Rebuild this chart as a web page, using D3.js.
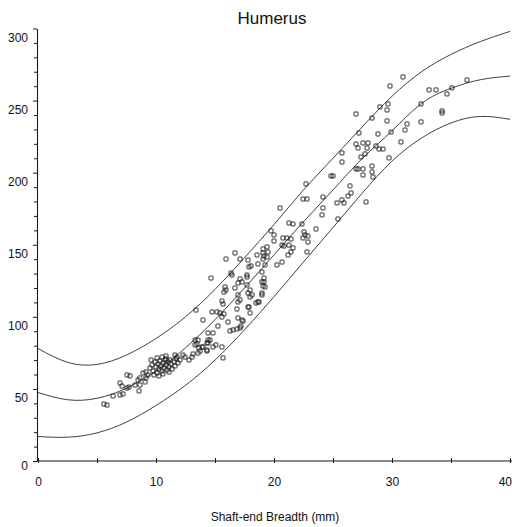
<!DOCTYPE html>
<html>
<head>
<meta charset="utf-8">
<script src="https://cdn.jsdelivr.net/npm/d3@7"></script>
<style>
  body { margin: 0; background: #fff; }
  svg { display: block; }
  text { font-family: "Liberation Sans", Arial, sans-serif; fill: #111; }
</style>
</head>
<body>
<svg id="chart" width="512" height="527"></svg>
<script>
// Labels
const chartTitle = "Humerus";
const xAxisTitle = "Shaft-end Breadth (mm)";
const xTickLabels = [0, 10, 20, 30, 40];
const yTickLabels = [0, 50, 100, 150, 200, 250, 300];

// Fitted curve and its upper / lower bands (length in mm against breadth in mm)
const curveBreadth = [0, 2.5, 5, 7.5, 10, 12.5, 15, 17.5, 20, 22.5, 25, 27.5, 30, 32.5, 35, 37.5, 40];
const upperBand = [78, 68.5, 67, 73.5, 85, 100, 119, 141, 164, 188, 210, 232, 253, 270, 282, 291, 298];
const fitLine   = [47.5, 42.5, 43.5, 50.5, 62.5, 78.5, 98, 120, 143, 166, 188, 210, 229, 248, 258.5, 264.5, 267];
const lowerBand = [17, 16.5, 19.5, 27, 38.5, 52.5, 70, 91, 114, 138, 162, 186, 208, 224, 234.5, 239, 237];

// Observed specimens: shaft-end breadth (mm) and humerus length (mm)
const breadth = [
  5.59, 5.85, 6.36, 6.95, 7.20, 6.95, 7.12, 7.54, 7.71, 7.54, 7.80, 8.22, 8.64, 8.56, 8.48, 8.64, 9.15, 9.32, 9.15,
  9.49, 9.66, 9.75, 9.92, 10.0, 10.09, 10.17, 10.25, 10.34, 10.42, 10.51, 10.59, 10.68, 10.76, 10.85, 10.93, 11.02,
  11.10, 11.19, 11.27, 11.36, 11.53, 11.61, 11.70, 11.86, 9.83, 10.25, 10.59, 11.10, 9.58, 10.09, 10.51, 10.85,
  11.61, 11.78, 12.03, 12.29, 12.46, 13.05, 13.14, 13.56, 13.31, 13.56, 13.90, 14.32, 14.32, 13.98, 14.58, 10.85,
  8.90, 9.07, 12.80, 13.39, 14.66, 14.41, 14.83, 13.31, 13.47, 14.41, 14.41, 13.98, 13.64, 14.83, 13.73, 14.32,
  14.75, 15.17, 15.42, 15.25, 15.59, 15.76, 16.10, 16.27, 16.53, 16.86, 17.12, 15.59, 15.68, 15.85, 15.93, 15.76,
  16.69, 16.95, 17.12, 16.95, 16.86, 17.80, 17.97, 17.29, 17.37, 16.95, 17.20, 16.36, 16.44, 17.71, 17.71, 17.12,
  17.29, 16.95, 18.98, 19.15, 17.71, 17.97, 17.80, 18.14, 18.98, 18.64, 18.47, 16.69, 15.93, 17.12, 17.80, 18.56,
  19.07, 19.41, 18.64, 19.24, 17.88, 18.98, 19.15, 19.07, 19.24, 18.98, 18.05, 17.97, 17.88, 18.73, 15.08, 15.59,
  15.68, 19.41, 19.07, 19.49, 19.15, 19.07, 19.75, 20.0, 20.0, 20.51, 20.76, 21.10, 21.44, 20.68, 20.85, 21.27,
  21.61, 21.44, 21.19, 20.68, 20.25, 21.27, 21.61, 22.37, 22.46, 22.80, 22.71, 22.54, 22.63, 22.88, 22.46, 22.88,
  22.80, 23.56, 24.15, 24.15, 24.07, 24.83, 25.0, 25.76, 25.76, 25.93, 25.34, 25.42, 26.44, 26.53, 26.27, 25.76,
  26.95, 27.20, 26.95, 27.54, 27.97, 27.12, 27.88, 27.37, 27.71, 26.95, 27.12, 27.54, 27.54, 28.31, 28.31, 28.39,
  27.80, 28.31, 28.81, 28.64, 28.90, 29.24, 28.98, 29.66, 29.58, 29.83, 30.93, 29.58, 29.92, 29.75, 30.76, 31.27,
  31.10, 32.46, 32.46, 33.14, 33.73, 35.08, 34.66, 34.24, 34.24, 36.36
];
const humerusLength = [
  39.5, 38.8, 45.1, 45.8, 46.5, 54.1, 52.0, 50.6, 51.3, 59.7, 59.0, 52.7, 52.7, 48.6, 56.2, 57.6, 57.6, 59.7, 61.7,
  64.5, 66.6, 62.4, 68.7, 65.2, 61.0, 67.3, 63.8, 69.4, 65.9, 62.4, 68.0, 64.5, 70.1, 66.6, 63.1, 68.7,
  65.2, 70.1, 67.3, 63.8, 68.7, 65.9, 70.8, 68.0, 59.7, 59.0, 60.4, 61.7, 70.1, 71.5, 72.1, 72.8,
  73.5, 72.1, 70.1, 73.5, 72.1, 72.1, 74.2, 74.9, 80.5, 83.9, 79.1, 81.9, 77.0, 97.8, 83.9, 70.8,
  61.0, 54.8, 70.1, 104.7, 126.9, 88.8, 88.8, 83.9, 81.2, 83.9, 81.9, 79.1, 78.4, 79.1, 76.3, 76.3,
  103.4, 103.4, 102.7, 93.6, 99.9, 102.0, 96.4, 90.2, 90.9, 91.6, 92.3, 111.0, 108.9, 120.7, 118.6, 117.2,
  120.0, 115.2, 111.7, 110.3, 105.4, 106.8, 102.7, 97.8, 97.1, 99.2, 93.6, 130.4, 129.0, 129.0, 127.6, 126.3,
  124.2, 123.5, 124.2, 124.2, 122.1, 118.6, 116.5, 115.2, 115.2, 110.3, 109.6, 144.3, 140.1, 140.1, 139.4, 142.9,
  144.3, 141.5, 136.7, 136.0, 134.6, 131.1, 126.9, 121.4, 120.7, 116.5, 135.3, 113.8, 106.8, 110.3, 80.5, 79.1,
  71.5, 148.5, 147.1, 145.0, 142.2, 140.1, 159.6, 156.8, 152.6, 175.5, 154.7, 154.7, 154.0, 149.8, 149.1, 149.8,
  147.8, 145.0, 142.9, 138.0, 136.0, 165.1, 164.4, 164.4, 181.7, 181.7, 192.2, 158.9, 156.8, 156.1, 154.7, 151.9,
  145.0, 160.9, 183.1, 175.5, 170.7, 197.7, 197.7, 213.7, 181.1, 179.0, 179.0, 167.9, 190.8, 185.9, 183.8, 207.4,
  240.7, 227.5, 219.9, 220.6, 220.6, 217.1, 217.1, 210.9, 213.0, 202.6, 202.6, 202.6, 198.4, 204.6, 200.5, 197.0,
  179.7, 237.9, 226.8, 218.5, 216.4, 216.4, 245.6, 247.7, 243.5, 260.1, 266.4, 235.9, 228.2, 210.2, 221.3, 233.8,
  229.6, 247.7, 235.2, 257.4, 257.4, 258.8, 254.6, 242.8, 241.4, 264.3
];

const svg = d3.select("#chart");
const W = 512, H = 527;
svg.append("rect").attr("width", W).attr("height", H).attr("fill", "#fff");

const x = d3.scaleLinear().domain([0, 40]).range([38, 510]);
const y = d3.scaleLinear().domain([0, 300]).range([461, 28.5]);
const ink = "#1a1a1a";

// Y axis: minor ticks every 10, labels every 50
const yAxis = d3.axisLeft(y)
  .tickValues(d3.range(0, 301, 10))
  .tickSize(3)
  .tickSizeOuter(0)
  .tickPadding(6)
  .tickFormat(d => yTickLabels.includes(d) ? d : "");
const gy = svg.append("g").attr("transform", "translate(37,0)").call(yAxis);
gy.select(".domain").attr("stroke", ink).attr("stroke-width", 1.1);
gy.selectAll(".tick line").attr("stroke", ink)
  .attr("x2", d => yTickLabels.includes(d) ? -4 : -3);
gy.selectAll(".tick text")
  .attr("font-size", 12)
  .attr("y", d => d === 0 ? 5 : 9);

// X axis: ticks every 5, labels every 10 (last label kept inside the right edge)
const xAxis = d3.axisBottom(x)
  .tickValues(d3.range(0, 41, 5))
  .tickSizeOuter(0)
  .tickFormat(d => xTickLabels.includes(d) ? d : "");
const gx = svg.append("g").attr("transform", "translate(0,461)").call(xAxis);
gx.select(".domain").attr("stroke", ink).attr("stroke-width", 1.1)
  .attr("d", `M${x(0) - 1},0H${W}`);
gx.selectAll(".tick line").attr("stroke", ink).attr("y1", -3).attr("y2", 2);
gx.selectAll(".tick text")
  .attr("font-size", 12)
  .attr("y", 16.5)
  .attr("text-anchor", d => d === 40 ? "end" : "middle")
  .attr("x", d => d === 40 ? 1.5 : 0);

// Fitted curve and bands
const line = d3.line()
  .x((d, i) => x(curveBreadth[i]))
  .y(d => y(d))
  .curve(d3.curveNatural);
[upperBand, fitLine, lowerBand].forEach(series => {
  svg.append("path")
    .attr("d", line(series))
    .attr("fill", "none")
    .attr("stroke", "#2a2a2a")
    .attr("stroke-width", 0.9);
});

// Specimen markers: small open squares
svg.append("g").selectAll("rect")
  .data(breadth.map((b, i) => [b, humerusLength[i]]))
  .join("rect")
  .attr("x", d => x(d[0]) - 2)
  .attr("y", d => y(d[1]) - 2)
  .attr("width", 4)
  .attr("height", 4)
  .attr("rx", 0.6)
  .attr("fill", "none")
  .attr("stroke", "#1a1a1a")
  .attr("stroke-width", 0.9);

// Titles
svg.append("text")
  .attr("x", 272).attr("y", 24)
  .attr("text-anchor", "middle")
  .attr("font-size", 17)
  .text(chartTitle);
svg.append("text")
  .attr("x", 275).attr("y", 521)
  .attr("text-anchor", "middle")
  .attr("font-size", 12)
  .text(xAxisTitle);
</script>
</body>
</html>
